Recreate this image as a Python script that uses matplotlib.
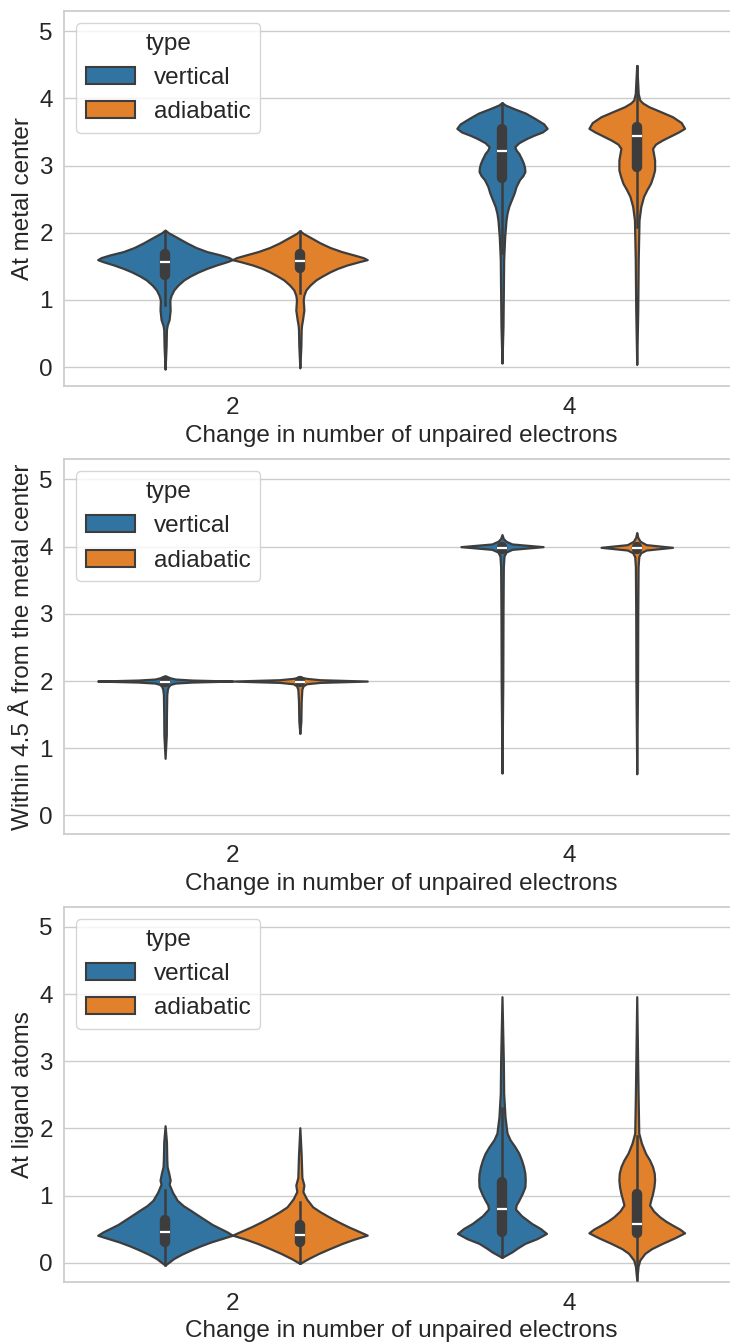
import matplotlib
matplotlib.use('Agg')
import matplotlib.pyplot as plt
from matplotlib.patches import Patch
import numpy as np

font = {'family': ['Liberation Sans', 'DejaVu Sans'], 'size': 17.5}
matplotlib.rc('font', **font)

categories = ['2', '4']
types = ['vertical', 'adiabatic']
colors = ['#3274a1', '#e1812c']
ylabels = ['At metal center', 'Within 4.5 Å from the metal center', 'At ligand atoms']
xlabel = 'Change in number of unpaired electrons'
yticks = [0, 1, 2, 3, 4, 5]

# violin outlines as (value, relative density), top to bottom
# --- at metal center ---
metal_2_vert = [(2.04, 0), (2.00, 0.05), (1.94, 0.16), (1.85, 0.32), (1.78, 0.46), (1.72, 0.62),
                (1.67, 0.82), (1.63, 0.95), (1.60, 1.0), (1.57, 0.92), (1.52, 0.76), (1.47, 0.62),
                (1.42, 0.50), (1.36, 0.38), (1.30, 0.28), (1.22, 0.19), (1.15, 0.13), (1.07, 0.09),
                (1.00, 0.07), (0.85, 0.075), (0.71, 0.06), (0.62, 0.03), (0.56, 0.02), (0.31, 0.015),
                (-0.03, 0)]
metal_2_adia = [(2.03, 0), (1.99, 0.05), (1.94, 0.14), (1.85, 0.30), (1.78, 0.45), (1.72, 0.62),
                (1.67, 0.80), (1.63, 0.94), (1.60, 1.0), (1.57, 0.88), (1.52, 0.70), (1.47, 0.56),
                (1.42, 0.45), (1.36, 0.34), (1.30, 0.24), (1.22, 0.15), (1.15, 0.09), (1.07, 0.06),
                (1.00, 0.05), (0.85, 0.06), (0.71, 0.04), (0.62, 0.025), (0.56, 0.02), (0.31, 0.015),
                (-0.01, 0)]
metal_4_vert = [(3.935, 0), (3.90, 0.05), (3.85, 0.17), (3.78, 0.35), (3.70, 0.49), (3.62, 0.62),
                (3.554, 0.67), (3.50, 0.60), (3.45, 0.47), (3.405, 0.37), (3.34, 0.25), (3.28, 0.19),
                (3.23, 0.21), (3.18, 0.25), (3.10, 0.29), (3.03, 0.32), (2.97, 0.335), (2.91, 0.34),
                (2.85, 0.31), (2.79, 0.26), (2.69, 0.21), (2.59, 0.18), (2.49, 0.14), (2.39, 0.10),
                (2.29, 0.075), (2.19, 0.06), (1.94, 0.04), (1.60, 0.025), (1.10, 0.02), (0.61, 0.015),
                (0.06, 0)]
metal_4_adia = [(4.49, 0), (4.27, 0.012), (4.07, 0.022), (3.975, 0.045), (3.93, 0.09), (3.876, 0.18),
                (3.80, 0.36), (3.727, 0.53), (3.64, 0.66), (3.554, 0.71), (3.50, 0.62), (3.44, 0.50),
                (3.38, 0.38), (3.32, 0.28), (3.256, 0.235), (3.17, 0.25), (3.083, 0.265), (2.935, 0.265),
                (2.84, 0.24), (2.737, 0.205), (2.64, 0.15), (2.538, 0.10), (2.389, 0.06), (2.19, 0.034),
                (1.60, 0.022), (0.85, 0.015), (0.04, 0)]
# q1, median, q3, whisker low, whisker high
metal_box = [(1.37, 1.57, 1.69, 0.93, 2.03), (1.48, 1.58, 1.69, 1.10, 2.02),
             (2.81, 3.21, 3.55, 1.70, 3.93), (2.98, 3.44, 3.58, 2.08, 4.48)]

# --- within 4.5 A ---
near_2_vert = [(2.08, 0), (2.05, 0.07), (2.03, 0.15), (2.015, 0.4), (2.0, 1.0), (1.985, 0.4),
               (1.97, 0.15), (1.95, 0.08), (1.92, 0.05), (1.88, 0.035), (1.80, 0.025), (1.5, 0.02),
               (1.2, 0.018), (0.85, 0)]
near_2_adia = [(2.06, 0), (2.04, 0.1), (2.02, 0.3), (2.0, 1.0), (1.98, 0.3), (1.96, 0.1),
               (1.93, 0.05), (1.88, 0.03), (1.7, 0.02), (1.4, 0.015), (1.22, 0)]
near_4_vert = [(4.18, 0), (4.12, 0.02), (4.08, 0.06), (4.04, 0.15), (4.00, 0.61), (3.96, 0.15),
               (3.92, 0.06), (3.86, 0.03), (3.7, 0.02), (3.0, 0.015), (2.0, 0.012), (0.63, 0)]
near_4_adia = [(4.21, 0), (4.14, 0.015), (4.08, 0.05), (4.03, 0.14), (3.99, 0.53), (3.95, 0.14),
               (3.91, 0.06), (3.85, 0.03), (3.7, 0.02), (3.0, 0.015), (2.0, 0.012), (0.62, 0)]
near_box = [(1.98, 1.99, 2.0, 1.95, 2.03), (1.98, 1.99, 2.0, 1.95, 2.03),
            (3.96, 3.975, 3.99, 3.92, 4.03), (3.96, 3.975, 3.99, 3.92, 4.04)]

# --- at ligand atoms ---
lig_2_vert = [(2.04, 0), (1.8, 0.02), (1.55, 0.025), (1.43, 0.03), (1.33, 0.055), (1.23, 0.075),
              (1.17, 0.06), (1.05, 0.11), (0.93, 0.18), (0.85, 0.27), (0.78, 0.38), (0.70, 0.50),
              (0.635, 0.60), (0.57, 0.70), (0.51, 0.82), (0.46, 0.92), (0.41, 1.0), (0.36, 0.84),
              (0.31, 0.68), (0.25, 0.52), (0.19, 0.38), (0.13, 0.25), (0.065, 0.13), (-0.034, 0)]
lig_2_adia = [(2.01, 0), (1.6, 0.02), (1.27, 0.03), (1.156, 0.06), (1.06, 0.045), (0.95, 0.10),
              (0.833, 0.19), (0.76, 0.30), (0.685, 0.43), (0.61, 0.57), (0.536, 0.72), (0.47, 0.87),
              (0.412, 1.0), (0.35, 0.80), (0.289, 0.63), (0.21, 0.44), (0.14, 0.28), (0.06, 0.12),
              (-0.01, 0)]
lig_4_vert = [(3.96, 0), (3.0, 0.02), (2.52, 0.025), (2.17, 0.045), (1.93, 0.075), (1.83, 0.12),
              (1.73, 0.19), (1.63, 0.25), (1.53, 0.29), (1.43, 0.32), (1.33, 0.34), (1.23, 0.345),
              (1.13, 0.34), (1.03, 0.30), (0.93, 0.25), (0.86, 0.21), (0.80, 0.20), (0.70, 0.29),
              (0.586, 0.44), (0.51, 0.57), (0.437, 0.66), (0.36, 0.52), (0.289, 0.34), (0.22, 0.23),
              (0.164, 0.15), (0.08, 0)]
lig_4_adia = [(3.96, 0), (2.5, 0.02), (1.93, 0.03), (1.78, 0.07), (1.63, 0.13), (1.53, 0.19),
              (1.43, 0.235), (1.33, 0.26), (1.23, 0.265), (1.13, 0.255), (1.03, 0.235), (0.94, 0.21),
              (0.86, 0.19), (0.77, 0.25), (0.685, 0.34), (0.62, 0.43), (0.561, 0.53), (0.50, 0.64),
              (0.446, 0.71), (0.37, 0.56), (0.289, 0.38), (0.21, 0.22), (0.14, 0.12), (0.04, 0.045),
              (-0.05, 0.02), (-0.25, 0)]
lig_box = [(0.313, 0.452, 0.635, -0.03, 1.08), (0.313, 0.42, 0.561, -0.01, 0.91),
           (0.461, 0.80, 1.205, 0.08, 2.31), (0.437, 0.576, 1.018, -0.25, 1.89)]

panels = [
    ([metal_2_vert, metal_2_adia, metal_4_vert, metal_4_adia], metal_box),
    ([near_2_vert, near_2_adia, near_4_vert, near_4_adia], near_box),
    ([lig_2_vert, lig_2_adia, lig_4_vert, lig_4_adia], lig_box),
]

line_col = '#3d3d3d'
grid_col = '#cccccc'
text_col = '#262626'


def draw_violin(ax, pos, profile, stats, color):
    vals = np.array([p[0] for p in profile])
    half = np.array([p[1] for p in profile]) * 0.2
    ax.fill_betweenx(vals, pos - half, pos + half, facecolor=color,
                     edgecolor=line_col, lw=1.6, joinstyle='round', zorder=2)
    q1, med, q3, lo, hi = stats
    ax.plot([pos, pos], [lo, hi], color=line_col, lw=1.8, zorder=3)
    ax.plot([pos, pos], [q1, q3], color=line_col, lw=7.5,
            solid_capstyle='round', zorder=3)
    ax.plot([pos], [med], marker='_', color='white', ms=7, mew=1.6, zorder=4)


fig = plt.figure(figsize=(7.3, 13.43), dpi=100)

# axes boxes in figure fraction (left, bottom, width, height)
bottoms = [0.7126, 0.3788, 0.0457]
for k, (profiles, boxes) in enumerate(panels):
    ax = fig.add_axes([0.0877, bottoms[k], 0.923, 0.2792])
    ax.set_xlim(-0.5, 1.5)
    ax.set_ylim(-0.28, 5.3)
    ax.set_yticks(yticks)
    ax.set_xticks(range(len(categories)))
    ax.set_xticklabels(categories)
    ax.yaxis.grid(True, color=grid_col, lw=1.0, zorder=0)
    ax.set_axisbelow(True)
    for s in ax.spines.values():
        s.set_color(grid_col)
        s.set_linewidth(1.25)
    ax.tick_params(length=0, pad=8, colors=text_col)

    j = 0
    for i in range(len(categories)):
        for h, off in enumerate([-0.2, 0.2]):
            draw_violin(ax, i + off, profiles[j], boxes[j], colors[h])
            j += 1

    ax.set_ylabel(ylabels[k], color=text_col)
    ax.set_xlabel(xlabel, color=text_col, labelpad=4)

    handles = [Patch(facecolor=c, edgecolor=line_col, lw=1.5) for c in colors]
    leg = ax.legend(handles, types, title='type', loc='upper left',
                    title_fontsize=17.5)
    leg.get_title().set_color(text_col)
    for t in leg.get_texts():
        t.set_color(text_col)

fig.savefig('out.png', dpi=100)
